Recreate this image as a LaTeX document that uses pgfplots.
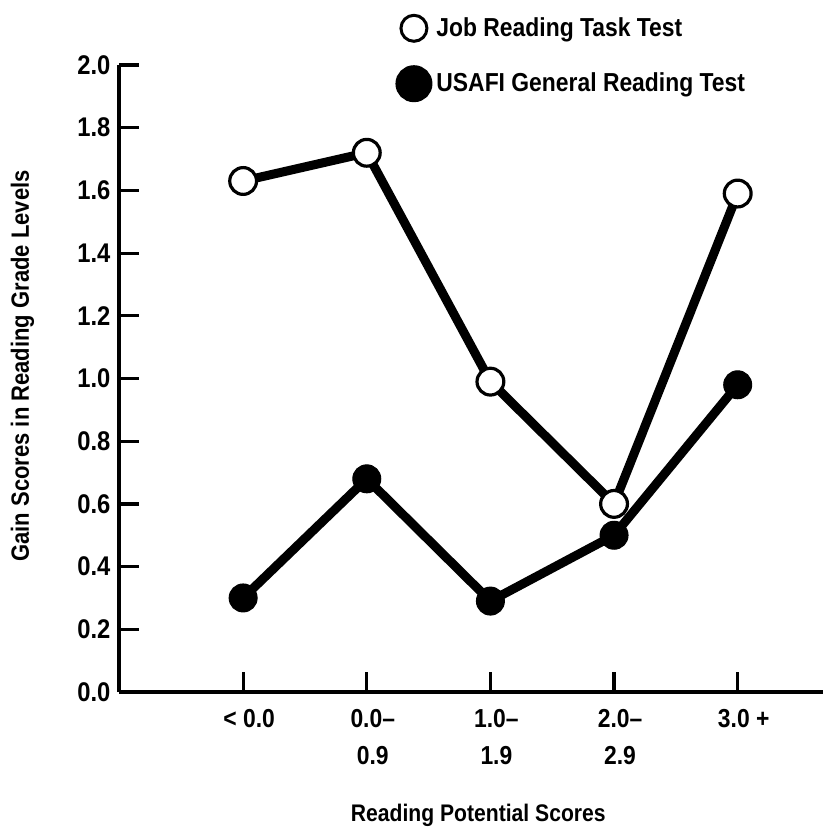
\documentclass[border=0pt]{standalone}
\usepackage{fontspec}
\setmainfont{Liberation Sans}[FakeStretch=0.88]
\usepackage{pgfplots}
\pgfplotsset{compat=1.18}
\pgfplotstableread{
x y
0 1.63
1 1.72
2 0.99
3 0.60
4 1.59
}\jobtable
\pgfplotstableread{
x y
0 0.30
1 0.68
2 0.29
3 0.50
4 0.98
}\usafitable
\begin{document}
\begin{tikzpicture}
\begin{axis}[
  name=ax,
  scale only axis,
  width=351.75pt, height=313.5pt,
  xmin=-1, xmax=4.69, ymin=0, ymax=2,
  axis x line*=bottom, axis y line*=left,
  axis line style={line width=2pt,-},
  tick align=inside,
  major tick length=10pt,
  tick style={line width=1.6pt,black},
  xtick={0,1,2,3,4},
  xticklabels={{< 0.0},{0.0--\\0.9},{1.0--\\1.9},{2.0--\\2.9},{3.0 +}},
  xticklabel style={align=center, font=\fontsize{13}{18.5}\selectfont\bfseries, yshift=-5pt, xshift=3pt},
  ytick={0,0.2,0.4,0.6,0.8,1.0,1.2,1.4,1.6,1.8,2.0},
  yticklabels={0.0,0.2,0.4,0.6,0.8,1.0,1.2,1.4,1.6,1.8,2.0},
  yticklabel style={font=\fontsize{13.5}{15}\selectfont\bfseries, xshift=-1pt},
  xlabel={Reading Potential Scores},
  xlabel style={at={(axis description cs:0.51,-0.207)}, anchor=base, font=\fontsize{12}{14}\selectfont\bfseries},
  ylabel={Gain Scores in Reading Grade Levels},
  ylabel style={at={(axis description cs:-0.138,0.52)}, anchor=center, font=\fontsize{12.5}{14}\selectfont\bfseries},
  legend style={draw=none, fill=none, at={(0.3917,1.083)}, anchor=north west,
    font=\fontsize{13}{15}\selectfont\bfseries, row sep=11pt, inner sep=0pt},
  legend cell align=left,
  clip=false,
]
\addplot[black, line width=4.5pt, mark=*, mark size=6.7pt,
  mark options={line width=1.6pt, fill=white, draw=black},
  legend image code/.code={\draw[line width=1.5pt, fill=white] (6.5pt,0pt) circle (6.5pt);}]
  table[x=x,y=y] {\jobtable};
\addlegendentry{Job Reading Task Test}
\addplot[black, line width=4.5pt, mark=*, mark size=7pt,
  mark options={line width=0.5pt, fill=black, draw=black},
  legend image code/.code={\fill[black] (6.5pt,0pt) circle (7pt);}]
  table[x=x,y=y] {\usafitable};
\addlegendentry{USAFI General Reading Test}
\end{axis}
\pgfresetboundingbox
\path[use as bounding box] ([xshift=-59.75pt, yshift=-69pt]ax.south west) rectangle ([yshift=32.5pt]ax.north east);
\end{tikzpicture}
\end{document}
